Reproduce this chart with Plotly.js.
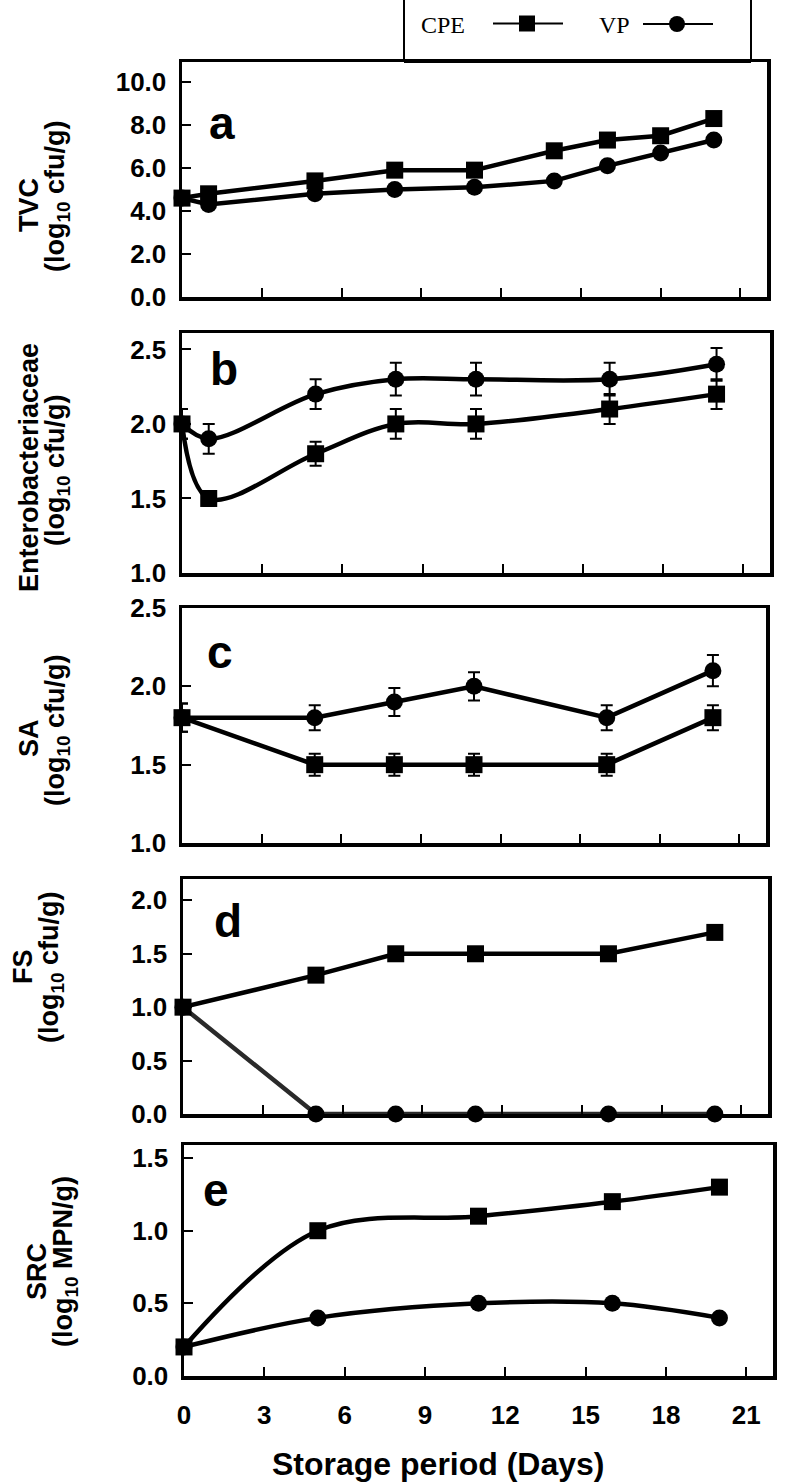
<!DOCTYPE html>
<html>
<head>
<meta charset="utf-8">
<script src="https://cdn.plot.ly/plotly-3.0.1.min.js"></script>
<style>html,body{margin:0;padding:0;background:#fff;}#chart{width:786px;height:1482px;}</style>
</head>
<body>
<div id="chart"></div>
<script>
// ---------------- DATA ----------------
const daysA = [0, 1, 5, 8, 11, 14, 16, 18, 20];
const tvcCPE = [4.6, 4.8, 5.4, 5.9, 5.9, 6.8, 7.3, 7.5, 8.3];
const tvcVP  = [4.6, 4.3, 4.8, 5.0, 5.1, 5.4, 6.1, 6.7, 7.3];

const daysB = [0, 1, 5, 8, 11, 16, 20];
const entCPE = [2.0, 1.5, 1.8, 2.0, 2.0, 2.1, 2.2];
const entCPEerr = [0.1, 0.05, 0.08, 0.1, 0.1, 0.1, 0.1];
const entVP  = [2.0, 1.9, 2.2, 2.3, 2.3, 2.3, 2.4];
const entVPerr = [0.1, 0.1, 0.1, 0.11, 0.11, 0.11, 0.11];

const daysC = [0, 5, 8, 11, 16, 20];
const saCPE = [1.8, 1.5, 1.5, 1.5, 1.5, 1.8];
const saCPEerr = [0.09, 0.07, 0.07, 0.07, 0.07, 0.08];
const saVP  = [1.8, 1.8, 1.9, 2.0, 1.8, 2.1];
const saVPerr = [0.09, 0.08, 0.09, 0.09, 0.08, 0.1];

const daysD = [0, 5, 8, 11, 16, 20];
const fsCPE = [1.0, 1.3, 1.5, 1.5, 1.5, 1.7];
const fsVP  = [1.0, 0.0, 0.0, 0.0, 0.0, 0.0];

const daysE = [0, 5, 11, 16, 20];
const srcCPE = [0.2, 1.0, 1.1, 1.2, 1.3];
const srcVP  = [0.2, 0.4, 0.5, 0.5, 0.4];

const xTicks = [0, 3, 6, 9, 12, 15, 18, 21];
const xTickText = ['0', '3', '6', '9', '12', '15', '18', '21'];
const panelLetters = ['a', 'b', 'c', 'd', 'e'];
const yTitles1 = ['TVC', 'Enterobacteriaceae', 'SA', 'FS', 'SRC'];
const yTitles2 = ['(log<sub>10</sub> cfu/g)', '(log<sub>10</sub> cfu/g)', '(log<sub>10</sub> cfu/g)', '(log<sub>10</sub> cfu/g)', '(log<sub>10</sub> MPN/g)'];
const legendNames = ['CPE', 'VP'];
const xTitle = 'Storage period (Days)';

// ---------------- STYLE / LAYOUT ----------------
const W = 786, H = 1482;
const SANS = '"Liberation Sans", Arial, Helvetica, sans-serif';
const SERIF = '"Liberation Serif", "Times New Roman", serif';
const px = x => x / W;
const py = y => 1 - y / H;

// panel pixel boxes: [left, right, top, bottom]
const boxes = [
  [182, 767, 62, 297],
  [182, 770, 333, 573],
  [182, 766, 608, 843],
  [183, 768, 879, 1114],
  [184, 773, 1145, 1376]
];
const yRanges = [[0, 10.93], [1, 2.61], [1, 2.5], [0, 2.2], [0, 1.59]];
const yTickVals = [[0, 2, 4, 6, 8, 10], [1, 1.5, 2, 2.5], [1, 1.5, 2, 2.5], [0, 0.5, 1, 1.5, 2], [0, 0.5, 1, 1.5]];

const lineW = 4.5;
function tr(x, y, k, sym, shape, err, color) {
  const t = {
    x: x, y: y, xaxis: 'x' + (k === 1 ? '' : k), yaxis: 'y' + (k === 1 ? '' : k),
    type: 'scatter', mode: 'lines+markers', cliponaxis: false, showlegend: false,
    line: {color: color || '#000', width: lineW, shape: shape, smoothing: 1},
    marker: {symbol: sym, size: 17, color: '#000'}
  };
  if (err) t.error_y = {type: 'data', array: err, visible: true, color: '#000', thickness: 2, width: 6};
  return t;
}

const data = [
  tr(daysA, tvcVP, 1, 'circle', 'linear'),
  tr(daysA, tvcCPE, 1, 'square', 'linear'),
  tr(daysB, entVP, 2, 'circle', 'spline', entVPerr),
  tr(daysB, entCPE, 2, 'square', 'spline', entCPEerr),
  tr(daysC, saVP, 3, 'circle', 'linear', saVPerr),
  tr(daysC, saCPE, 3, 'square', 'linear', saCPEerr),
  tr(daysD, fsVP, 4, 'circle', 'linear', null, '#2a2a2a'),
  tr(daysD, fsCPE, 4, 'square', 'linear'),
  tr(daysE, srcVP, 5, 'circle', 'spline'),
  tr(daysE, srcCPE, 5, 'square', 'spline')
];

const layout = {
  width: W, height: H,
  margin: {l: 0, r: 0, t: 0, b: 0},
  paper_bgcolor: '#fff', plot_bgcolor: '#fff',
  showlegend: false,
  annotations: [],
  shapes: []
};

boxes.forEach((b, i) => {
  const k = i + 1;
  const xs = k === 1 ? 'xaxis' : 'xaxis' + k;
  const ys = k === 1 ? 'yaxis' : 'yaxis' + k;
  layout[xs] = {
    domain: [px(b[0]), px(b[1])], anchor: 'y' + (k === 1 ? '' : k),
    range: [0, 22], tickvals: xTicks, ticktext: xTickText,
    showticklabels: k === 5, ticks: 'inside', ticklen: 9, tickwidth: 2, tickcolor: '#000',
    showline: true, mirror: true, linewidth: 3.5, linecolor: '#000',
    showgrid: false, zeroline: false, fixedrange: true,
    tickfont: {family: SANS, size: 26, color: '#000', weight: 'bold'},
    ticklabelstandoff: 13
  };
  layout[ys] = {
    domain: [py(b[3]), py(b[2])], anchor: 'x' + (k === 1 ? '' : k),
    range: yRanges[i], tickvals: yTickVals[i], tickformat: '.1f',
    ticks: 'inside', ticklen: 9, tickwidth: 2, tickcolor: '#000',
    showline: true, mirror: true, linewidth: 3.5, linecolor: '#000',
    showgrid: false, zeroline: false, fixedrange: true,
    tickfont: {family: SANS, size: 26, color: '#000', weight: 'bold'},
    ticklabelstandoff: 7
  };
});

// panel letters
const letterPos = [[222, 123], [224, 369], [220, 652], [228, 921], [216, 1190]];
panelLetters.forEach((L, i) => {
  layout.annotations.push({
    text: L, xref: 'paper', yref: 'paper', x: px(letterPos[i][0]), y: py(letterPos[i][1]),
    xanchor: 'center', yanchor: 'middle', showarrow: false,
    font: {family: SANS, size: 46, color: '#000', weight: 'bold'}
  });
});

// y titles (two lines each)
const t1Pos = [[29, 205], [29, 468], [29, 738], [23, 967], [37, 1272]];
const t2Pos = [[57, 196], [57, 470], [57, 730], [51, 967], [65, 1262]];
yTitles1.forEach((t, i) => {
  layout.annotations.push({
    text: t, xref: 'paper', yref: 'paper', x: px(t1Pos[i][0]), y: py(t1Pos[i][1]),
    xanchor: 'center', yanchor: 'middle', textangle: -90, showarrow: false,
    font: {family: SANS, size: 27, color: '#000', weight: 'bold'}
  });
  layout.annotations.push({
    text: yTitles2[i], xref: 'paper', yref: 'paper', x: px(t2Pos[i][0]), y: py(t2Pos[i][1]),
    xanchor: 'center', yanchor: 'middle', textangle: -90, showarrow: false,
    font: {family: SANS, size: 27, color: '#000', weight: 'bold'}
  });
});

// x title
layout.annotations.push({
  text: xTitle, xref: 'paper', yref: 'paper', x: px(438), y: py(1464),
  xanchor: 'center', yanchor: 'middle', showarrow: false,
  font: {family: SANS, size: 32, color: '#000', weight: 'bold'}
});

// legend box (manual, top-centre)
layout.shapes.push({type: 'rect', xref: 'paper', yref: 'paper', x0: px(404), x1: px(751), y0: py(61), y1: py(-10),
  line: {color: '#000', width: 2}, fillcolor: 'rgba(0,0,0,0)'});
layout.shapes.push({type: 'line', xref: 'paper', yref: 'paper', x0: px(404), x1: px(751), y0: py(61), y1: py(61),
  line: {color: '#000', width: 4}});
// CPE entry
layout.annotations.push({text: legendNames[0], xref: 'paper', yref: 'paper', x: px(443), y: py(25),
  xanchor: 'center', yanchor: 'middle', showarrow: false, font: {family: SERIF, size: 24, color: '#000'}});
layout.shapes.push({type: 'line', xref: 'paper', yref: 'paper', x0: px(493), x1: px(563), y0: py(23.5), y1: py(23.5),
  line: {color: '#000', width: 2}});
layout.shapes.push({type: 'rect', xref: 'paper', yref: 'paper', x0: px(519), x1: px(535), y0: py(31.5), y1: py(15.5),
  line: {color: '#000', width: 0}, fillcolor: '#000'});
// VP entry
layout.annotations.push({text: legendNames[1], xref: 'paper', yref: 'paper', x: px(614), y: py(25),
  xanchor: 'center', yanchor: 'middle', showarrow: false, font: {family: SERIF, size: 24, color: '#000'}});
layout.shapes.push({type: 'line', xref: 'paper', yref: 'paper', x0: px(643), x1: px(713), y0: py(24), y1: py(24),
  line: {color: '#000', width: 2}});
layout.shapes.push({type: 'circle', xref: 'paper', yref: 'paper', x0: px(669), x1: px(685), y0: py(32), y1: py(16),
  line: {color: '#000', width: 0}, fillcolor: '#000'});

Plotly.newPlot('chart', data, layout, {staticPlot: true, displayModeBar: false});
</script>
</body>
</html>
